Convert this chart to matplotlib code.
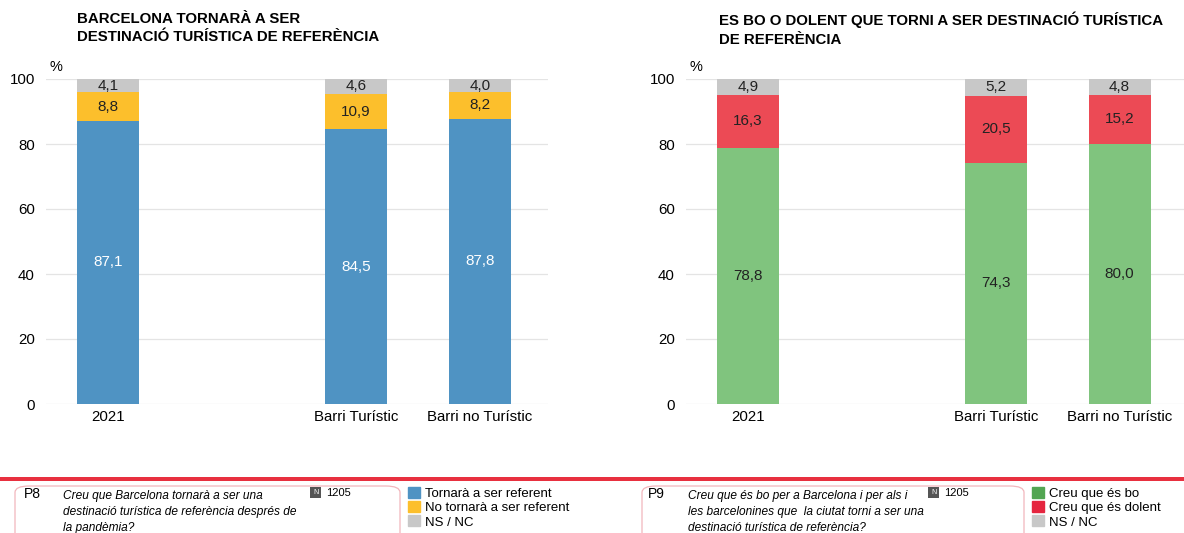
import matplotlib.pyplot as plt
from matplotlib.patches import FancyBboxPatch, Patch, Rectangle
import numpy as np

plt.rcParams["font.family"] = ["Liberation Sans", "DejaVu Sans"]

CATEGORIES = ["2021", "Barri Turístic", "Barri no Turístic"]
SLOTS = [0, 2, 3]

P8_TITLE = "BARCELONA TORNARÀ A SER\nDESTINACIÓ TURÍSTICA DE REFERÈNCIA"
P8_LABELS = ["Tornarà a ser referent", "No tornarà a ser referent", "NS / NC"]
P8_YES = [87.1, 84.5, 87.8]
P8_NO = [8.8, 10.9, 8.2]
P8_NSNC = [4.1, 4.6, 4.0]

P9_TITLE = "ES BO O DOLENT QUE TORNI A SER DESTINACIÓ TURÍSTICA\nDE REFERÈNCIA"
P9_LABELS = ["Creu que és bo", "Creu que és dolent", "NS / NC"]
P9_GOOD = [78.8, 74.3, 80.0]
P9_BAD = [16.3, 20.5, 15.2]
P9_NSNC = [4.9, 5.2, 4.8]

W, H = 1184, 533
BLUE, YELLOW, GREY = "#4f93c3", "#fcbf2c", "#c8c8c8"
GREEN, RED = "#80c47e", "#ec4a55"
GREEN_LEG, RED_LEG = "#52a552", "#e5253f"


def fmt(v):
    return f"{v:.1f}".replace(".", ",")


def px(x, y):
    return x / W, 1 - y / H


def draw_panel(ax, series, colors, text_colors):
    bottom = np.zeros(len(SLOTS))
    for vals, col, tc in zip(series, colors, text_colors):
        ax.bar(SLOTS, vals, 0.5, bottom=bottom, color=col, zorder=2)
        for x, b, v in zip(SLOTS, bottom, vals):
            ax.text(x, b + v / 2, fmt(v), ha="center", va="center",
                    color=tc, fontsize=11, zorder=3)
        bottom += np.array(vals)
    ax.set_ylim(0, 100)
    ax.set_yticks([0, 20, 40, 60, 80, 100])
    ax.set_xticks(SLOTS)
    ax.set_xticklabels(CATEGORIES, fontsize=10.8)
    ax.tick_params(axis="both", length=0, labelsize=10.8)
    ax.tick_params(axis="y", pad=8)
    ax.tick_params(axis="x", pad=4.5)
    ax.grid(axis="y", color="#e4e4e4", lw=0.9, zorder=0)
    for s in ax.spines.values():
        s.set_visible(False)


fig = plt.figure(figsize=(W / 100, H / 100), dpi=100)

axl = fig.add_axes([46 / W, (H - 404) / H, 502 / W, 325 / H])
draw_panel(axl, [P8_YES, P8_NO, P8_NSNC], [BLUE, YELLOW, GREY],
           ["white", "#222222", "#222222"])
axl.set_xlim(-0.5, 3.55)

axr = fig.add_axes([686 / W, (H - 404) / H, 498 / W, 325 / H])
draw_panel(axr, [P9_GOOD, P9_BAD, P9_NSNC], [GREEN, RED, GREY],
           ["#222222", "#222222", "#222222"])
axr.set_xlim(-0.5, 3.52)

# titles and % marks
fig.text(*px(77, 12), P8_TITLE, ha="left", va="top", fontsize=10.8,
         fontweight="bold", linespacing=1.4)
fig.text(*px(719, 12), P9_TITLE, ha="left", va="top", fontsize=10.8,
         fontweight="bold", linespacing=1.4)
fig.text(*px(50, 67), "%", ha="left", va="center", fontsize=10.5)
fig.text(*px(689, 67), "%", ha="left", va="center", fontsize=10.5)

# bottom red rule
fig.add_artist(Rectangle(px(0, 481), 1, 4 / H, transform=fig.transFigure,
                         color="#e8303f", lw=0))

# question boxes
for x0, x1 in [(15, 400), (642, 1024)]:
    bx, by = px(x0, 548)
    fig.add_artist(FancyBboxPatch((bx, by), (x1 - x0) / W, 62 / H,
                                  boxstyle="round,pad=0,rounding_size=0.012",
                                  transform=fig.transFigure, fc="white",
                                  ec="#f2b6bc", lw=0.9))

questions = [
    (24, 63, "P8", "Creu que Barcelona tornarà a ser una\n"
                   "destinació turística de referència després de\nla pandèmia?", 310),
    (648, 688, "P9", "Creu que és bo per a Barcelona i per als i\n"
                     "les barcelonines que  la ciutat torni a ser una\n"
                     "destinació turística de referència?", 928),
]
for x0, qx, tag, q, nx in questions:
    fig.text(*px(x0, 494), tag, ha="left", va="center", fontsize=10)
    fig.text(*px(qx, 490), q, ha="left", va="top", fontsize=8.6,
             style="italic", linespacing=1.45)
    fig.add_artist(Rectangle(px(nx, 498), 11 / W, 11 / H,
                             transform=fig.transFigure, color="#555555", lw=0))
    fig.text(*px(nx + 5.5, 492.5), "N", ha="center", va="center", fontsize=5,
             color="white")
    fig.text(*px(nx + 16, 493), "1205", ha="left", va="center", fontsize=8)

# legends
for lx, labels, colors in [(407, P8_LABELS, [BLUE, YELLOW, GREY]),
                           (1031, P9_LABELS, [GREEN_LEG, RED_LEG, GREY])]:
    handles = [Patch(color=c, label=l) for c, l in zip(colors, labels)]
    fig.legend(handles=handles, loc="upper left", bbox_to_anchor=px(lx, 486),
               frameon=False, fontsize=9.5, handlelength=0.85, handleheight=0.9,
               handletextpad=0.45, labelspacing=0.08, borderaxespad=0,
               borderpad=0.1)

fig.savefig("out.png", dpi=100)
